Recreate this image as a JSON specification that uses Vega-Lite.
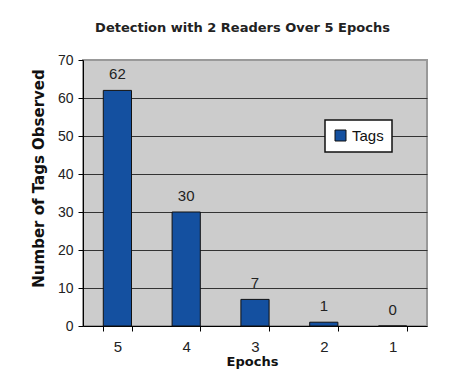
{
  "$schema": "https://vega.github.io/schema/vega-lite/v6.json",
  "width": 344,
  "height": 266,
  "autosize": "none",
  "padding": {"left": 83, "top": 60, "right": 36, "bottom": 46},
  "background": "white",
  "title": {
    "text": "Detection with 2 Readers Over 5 Epochs",
    "font": "DejaVu Sans",
    "fontSize": 13,
    "fontWeight": "bold",
    "color": "#222222",
    "anchor": "middle",
    "dx": -12.5,
    "baseline": "alphabetic",
    "offset": 8
  },
  "data": {
    "values": [
      {"epochs": "5", "tags": 62, "series": "Tags"},
      {"epochs": "4", "tags": 30, "series": "Tags"},
      {"epochs": "3", "tags": 7, "series": "Tags"},
      {"epochs": "2", "tags": 1, "series": "Tags"},
      {"epochs": "1", "tags": 0, "series": "Tags"}
    ]
  },
  "encoding": {
    "x": {
      "field": "epochs",
      "type": "nominal",
      "sort": ["5", "4", "3", "2", "1"],
      "scale": {"paddingInner": 0.59, "paddingOuter": 0.295},
      "axis": {
        "tickBand": "extent",
        "tickSize": 5,
        "tickColor": "#000000",
        "domainColor": "#000000",
        "labelAngle": 0,
        "labelFont": "Liberation Sans",
        "labelFontSize": 15,
        "labelPadding": 8,
        "labelColor": "#222222",
        "grid": false,
        "title": "Epochs",
        "titleFont": "DejaVu Sans",
        "titleFontSize": 13,
        "titleFontWeight": "bold",
        "titleColor": "#111111",
        "titleX": 169,
        "titleY": 29,
        "titleBaseline": "top",
        "titleAlign": "center"
      }
    },
    "y": {
      "field": "tags",
      "type": "quantitative",
      "scale": {"domain": [0, 70]},
      "axis": {
        "values": [0, 10, 20, 30, 40, 50, 60, 70],
        "domainColor": "#000000",
        "tickColor": "#000000",
        "tickSize": 5,
        "labelFont": "Liberation Sans",
        "labelFontSize": 14,
        "labelColor": "#222222",
        "labelPadding": 5,
        "grid": true,
        "gridColor": {
          "condition": {"test": "datum.value == 70 || datum.value == 0", "value": "transparent"},
          "value": "#333333"
        },
        "gridWidth": 1.2,
        "title": "Number of Tags Observed",
        "titleFont": "DejaVu Sans",
        "titleFontSize": 15,
        "titleFontWeight": "bold",
        "titleColor": "#111111",
        "titleX": -40,
        "titleY": 118,
        "titleAngle": -90,
        "titleAlign": "center",
        "titleBaseline": "alphabetic"
      }
    }
  },
  "layer": [
    {
      "mark": {"type": "bar", "stroke": "#111111", "strokeWidth": 1},
      "encoding": {
        "fill": {
          "field": "series",
          "type": "nominal",
          "scale": {"range": ["#1450a0"]},
          "legend": {
            "orient": "none",
            "legendX": 242,
            "legendY": 60,
            "title": null,
            "fillColor": "white",
            "strokeColor": "#111111",
            "padding": 8,
            "symbolType": "square",
            "symbolSize": 121,
            "symbolStrokeColor": "#111111",
            "symbolStrokeWidth": 1,
            "labelFont": "Liberation Sans",
            "labelFontSize": 15,
            "labelOffset": 4,
            "labelColor": "#111111"
          }
        }
      }
    },
    {
      "mark": {
        "type": "text",
        "dy": -11,
        "baseline": "alphabetic",
        "font": "Liberation Sans",
        "fontSize": 15,
        "color": "#222222"
      },
      "encoding": {"text": {"field": "tags", "type": "quantitative"}}
    }
  ],
  "config": {
    "view": {"fill": "#cccccc", "stroke": "#999999", "strokeWidth": 2},
    "legend": {"strokeWidth": 1.5}
  }
}
